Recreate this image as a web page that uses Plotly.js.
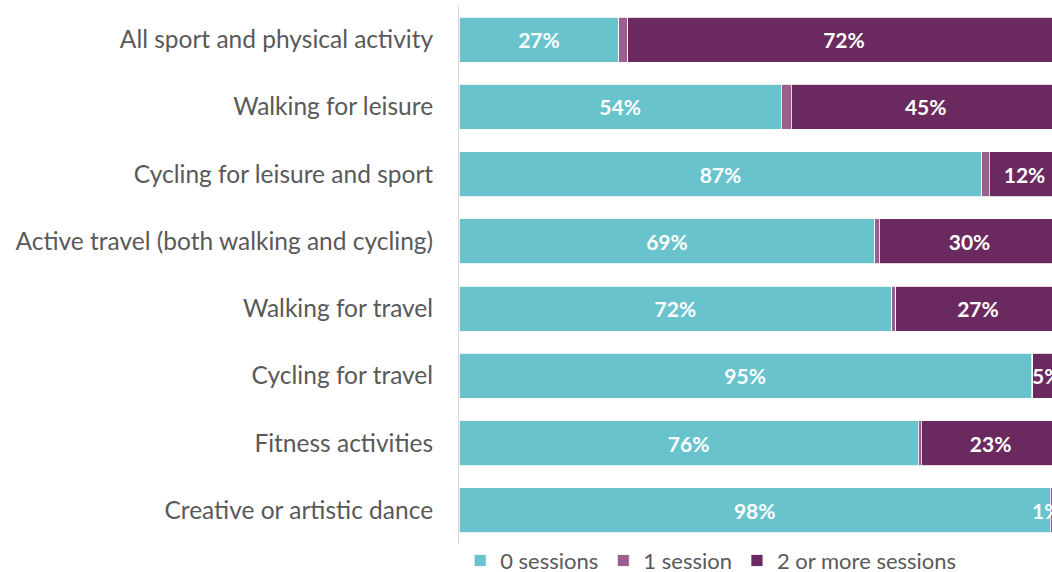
<!DOCTYPE html>
<html>
<head>
<meta charset="utf-8">
<script src="https://cdn.plot.ly/plotly-3.0.1.min.js"></script>
<style>html,body{margin:0;padding:0;background:#fff;}#chart{width:1052px;height:572px;}</style>
</head>
<body>
<div id="chart"></div>
<script>
const categories = [
  "All sport and physical activity",
  "Walking for leisure",
  "Cycling for leisure and sport",
  "Active travel (both walking and cycling)",
  "Walking for travel",
  "Cycling for travel",
  "Fitness activities",
  "Creative or artistic dance"
];
const seriesNames = ["0 sessions", "1 session", "2 or more sessions"];
const zeroSessions = [26.6, 53.6, 87.0, 69.2, 72.0, 95.2, 76.4, 98.4];
const oneSession   = [1.5, 1.7, 1.2, 0.7, 0.7, 0.3, 0.5, 0.3];
const twoPlus      = [71.9, 44.7, 11.8, 30.1, 27.3, 4.6, 23.1, 1.3];
const colors = ["#69C3CD", "#9A5F8C", "#6B2A5F"];
const FONT = "Lato, 'Open Sans', sans-serif";

function pctText(arr){ return arr.map(v => Math.round(v) + "%"); }

const labelFont = {family: FONT, size: 21, color: "#ffffff", weight: "bold"};
const common = {
  type: "bar",
  orientation: "h",
  y: categories,
  textposition: "inside",
  insidetextanchor: "middle",
  constraintext: "none",
  textangle: 0,
  textfont: labelFont,
  hoverinfo: "skip"
};

// last bar's 2+ label is shifted left into view (as in the reference) via an annotation
const twoPlusText = pctText(twoPlus);
const lastIdx = categories.length - 1;
const shiftedLabel = twoPlusText[lastIdx];
twoPlusText[lastIdx] = "";

const data = [
  Object.assign({}, common, {name: seriesNames[0], x: zeroSessions, text: pctText(zeroSessions),
    marker: {color: colors[0], line: {color: "#ffffff", width: 0.8}}}),
  Object.assign({}, common, {name: seriesNames[1], x: oneSession, text: oneSession.map(() => ""),
    marker: {color: colors[1], line: {color: "#ffffff", width: 0.8}}}),
  Object.assign({}, common, {name: seriesNames[2], x: twoPlus, text: twoPlusText,
    marker: {color: colors[2], line: {color: "#ffffff", width: 0.8}}})
];

const layout = {
  width: 1052, height: 572,
  margin: {l: 459, r: 0, t: 6, b: 28, autoexpand: false},
  barmode: "stack",
  bargap: 0.33,
  paper_bgcolor: "#ffffff",
  plot_bgcolor: "#ffffff",
  font: {family: FONT, color: "#595959"},
  xaxis: {range: [0, 98.67], showgrid: false, zeroline: false, showticklabels: false, showline: false, fixedrange: true},
  yaxis: {autorange: "reversed", showline: true, linecolor: "#d9d9d9", linewidth: 1, ticks: "",
    ticklabelstandoff: 20, tickfont: {size: 24.5, color: "#595959", family: FONT}, showgrid: false},
  showlegend: true,
  legend: {orientation: "h", x: 0.002, xanchor: "left", y: -0.031, yanchor: "middle",
    font: {size: 22, color: "#595959", family: FONT}, traceorder: "normal", itemwidth: 30, tracegroupgap: 0,
    bgcolor: "rgba(0,0,0,0)"},
  annotations: [{
    x: zeroSessions[lastIdx], y: categories[lastIdx], xref: "x", yref: "y",
    text: shiftedLabel, showarrow: false, xanchor: "left", xshift: -20,
    font: labelFont
  }]
};

Plotly.newPlot("chart", data, layout, {displayModeBar: false, staticPlot: true});
</script>
</body>
</html>
